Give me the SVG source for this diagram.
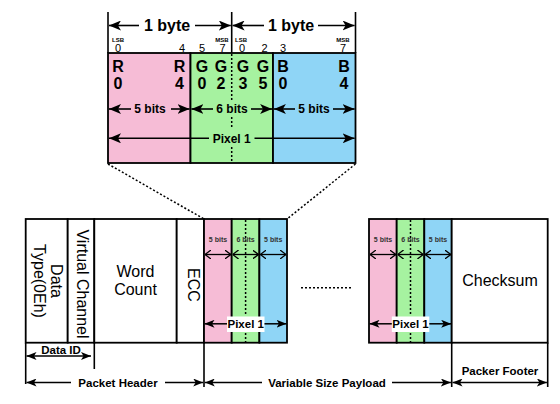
<svg xmlns="http://www.w3.org/2000/svg" width="560" height="404" viewBox="0 0 560 404">
<defs>
<style>
.b{stroke:#000;stroke-width:1.8;fill:none}
.pk{fill:#F6BCD6;stroke:#000;stroke-width:1.8}
.gr{fill:#A6F2A0;stroke:#000;stroke-width:1.8}
.bl{fill:#8FD5F6;stroke:#000;stroke-width:1.8}
.wh{fill:#fff;stroke:#000;stroke-width:1.8}
.dot{stroke:#000;stroke-width:1.5;stroke-dasharray:2 2;fill:none}
.ln{stroke:#000;stroke-width:1.6;fill:none}
.a{stroke:#000;stroke-width:1.6;fill:none;marker-end:url(#ah)}
.as{stroke:#000;stroke-width:1.5;fill:none;marker-end:url(#ahs)}
.ao{stroke:#000;stroke-width:1.3;fill:none;marker-start:url(#oh);marker-end:url(#oh)}
text{font-family:"Liberation Sans",Arial,sans-serif;fill:#000}
.t16b{font-size:16px;font-weight:bold}
.t12b{font-size:12px;font-weight:bold}
.t11b{font-size:11.5px;font-weight:bold}
.tn{font-size:11px}
.tiny{font-size:6px;font-weight:bold}
.t7{font-size:7px;font-weight:bold;fill:#333}
.t16{font-size:16px}
.m{text-anchor:middle}
</style>
<marker id="ah" viewBox="0 0 12 10" refX="12" refY="5" markerWidth="12" markerHeight="10" markerUnits="userSpaceOnUse" orient="auto"><path d="M0,0 L12,5 L0,10 L3,5 z" fill="#000"/></marker>
<marker id="ahs" viewBox="0 0 10 8" refX="10" refY="4" markerWidth="10" markerHeight="8" markerUnits="userSpaceOnUse" orient="auto"><path d="M0,0 L10,4 L0,8 L2.5,4 z" fill="#000"/></marker>
<marker id="oh" viewBox="0 0 6 9" refX="6" refY="4.5" markerWidth="6" markerHeight="9" markerUnits="userSpaceOnUse" orient="auto-start-reverse"><path d="M0,0 L6,4.5 L0,9" fill="none" stroke="#000" stroke-width="1.3"/></marker>
</defs>
<rect width="560" height="404" fill="#fff"/>

<!-- Top detail: pixel bytes -->
<g id="pixel-detail">
<rect class="pk" x="108" y="53" width="82.5" height="110"/>
<rect class="gr" x="190.5" y="53" width="82.5" height="110"/>
<rect class="bl" x="273" y="53" width="82.5" height="110"/>
<line class="dot" x1="231.7" y1="54" x2="231.7" y2="100"/>
<line class="dot" x1="231.7" y1="117" x2="231.7" y2="129"/>
<line class="dot" x1="231.7" y1="147" x2="231.7" y2="162"/>
<text class="tiny m" x="118" y="42">LSB</text>
<text class="tiny m" x="222" y="42">MSB</text>
<text class="tiny m" x="241" y="42">LSB</text>
<text class="tiny m" x="343" y="42">MSB</text>
<text class="tn m" x="118" y="51.5">0</text>
<text class="tn m" x="182" y="51.5">4</text>
<text class="tn m" x="202" y="51.5">5</text>
<text class="tn m" x="222.5" y="51.5">7</text>
<text class="tn m" x="242" y="51.5">0</text>
<text class="tn m" x="264.5" y="51.5">2</text>
<text class="tn m" x="283" y="51.5">3</text>
<text class="tn m" x="343" y="51.5">7</text>
<text class="t16b m" x="118" y="71.5">R</text>
<text class="t16b m" x="179.5" y="71.5">R</text>
<text class="t16b m" x="202" y="71.5">G</text>
<text class="t16b m" x="221" y="71.5">G</text>
<text class="t16b m" x="243" y="71.5">G</text>
<text class="t16b m" x="263" y="71.5">G</text>
<text class="t16b m" x="283" y="71.5">B</text>
<text class="t16b m" x="344" y="71.5">B</text>
<text class="t16b m" x="118" y="88.5">0</text>
<text class="t16b m" x="179.5" y="88.5">4</text>
<text class="t16b m" x="202" y="88.5">0</text>
<text class="t16b m" x="221" y="88.5">2</text>
<text class="t16b m" x="243" y="88.5">3</text>
<text class="t16b m" x="263" y="88.5">5</text>
<text class="t16b m" x="283" y="88.5">0</text>
<text class="t16b m" x="344" y="88.5">4</text>
<text class="t12b m" x="150" y="113">5 bits</text>
<text class="t12b m" x="232" y="113">6 bits</text>
<text class="t12b m" x="314" y="113">5 bits</text>
<text class="t12b m" x="231.7" y="142.5">Pixel 1</text>
<text class="t16b m" x="167" y="30.5">1 byte</text>
<text class="t16b m" x="291" y="30.5">1 byte</text>
</g>

<!-- Packet -->
<g id="data-type">
<rect class="wh" x="25.7" y="219" width="42" height="123.7"/>
<text class="t16 m" transform="translate(50.5,281) rotate(90)">Data</text>
<text class="t16 m" transform="translate(33.5,281) rotate(90)">Type(0Eh)</text>
</g>
<g id="virtual-channel">
<rect class="wh" x="67.7" y="219" width="26.6" height="123.7"/>
<text class="t16 m" transform="translate(76.5,284) rotate(90)">Virtual Channel</text>
</g>
<g id="word-count">
<rect class="wh" x="94.3" y="219" width="82.4" height="123.7"/>
<text class="t16 m" x="135.5" y="276.5">Word</text>
<text class="t16 m" x="135.5" y="295">Count</text>
</g>
<g id="ecc">
<rect class="wh" x="176.7" y="219" width="27.3" height="123.7"/>
<text class="t16 m" transform="translate(187.5,285) rotate(90)">ECC</text>
</g>
<g id="pixel-1a">
<rect class="pk" x="204" y="219" width="27.7" height="123.7"/>
<rect class="gr" x="231.7" y="219" width="27.7" height="123.7"/>
<rect class="bl" x="259.4" y="219" width="27.6" height="123.7"/>
<line class="dot" x1="245.6" y1="220" x2="245.6" y2="316"/>
<line class="dot" x1="245.6" y1="333" x2="245.6" y2="342"/>
<text class="t7 m" x="218" y="242">5 bits</text>
<text class="t7 m" x="245.6" y="242">6 bits</text>
<text class="t7 m" x="273.2" y="242">5 bits</text>
<line class="ao" x1="205" y1="254.5" x2="230.8" y2="254.5"/>
<line class="ao" x1="232.6" y1="254.5" x2="258.5" y2="254.5"/>
<line class="ao" x1="260.3" y1="254.5" x2="286" y2="254.5"/>
<rect x="227" y="316.5" width="37.5" height="15.5" fill="#fff"/>
<line class="as" x1="227" y1="323.8" x2="204.5" y2="323.8"/>
<line class="as" x1="264.5" y1="323.8" x2="286.5" y2="323.8"/>
<text class="t11b m" x="245.7" y="328">Pixel 1</text>
</g>
<g id="pixel-1b">
<rect class="pk" x="369" y="219" width="27.7" height="123.7"/>
<rect class="gr" x="396.7" y="219" width="27.6" height="123.7"/>
<rect class="bl" x="424.3" y="219" width="27.4" height="123.7"/>
<line class="dot" x1="410.5" y1="220" x2="410.5" y2="316"/>
<line class="dot" x1="410.5" y1="333" x2="410.5" y2="342"/>
<text class="t7 m" x="383" y="242">5 bits</text>
<text class="t7 m" x="410.5" y="242">6 bits</text>
<text class="t7 m" x="438" y="242">5 bits</text>
<line class="ao" x1="370" y1="254.5" x2="395.8" y2="254.5"/>
<line class="ao" x1="397.6" y1="254.5" x2="423.4" y2="254.5"/>
<line class="ao" x1="425.2" y1="254.5" x2="450.8" y2="254.5"/>
<rect x="391.8" y="316.5" width="37.5" height="15.5" fill="#fff"/>
<line class="as" x1="391.8" y1="323.8" x2="369.5" y2="323.8"/>
<line class="as" x1="429.3" y1="323.8" x2="451.2" y2="323.8"/>
<text class="t11b m" x="410.5" y="328">Pixel 1</text>
</g>
<g id="checksum">
<rect class="wh" x="451.7" y="219" width="96" height="123.7"/>
<text class="t16 m" x="500" y="285.5">Checksum</text>
</g>

<!-- Labels below -->
<g id="label-data-id">
<text class="t11b m" x="61" y="354">Data ID</text>
</g>
<g id="label-packet-header">
<text class="t11b m" x="118" y="386.5">Packet Header</text>
</g>
<g id="label-payload">
<text class="t11b m" x="327" y="386.5">Variable Size Payload</text>
</g>
<g id="label-footer">
<text class="t11b m" x="500" y="375">Packer Footer</text>
</g>

<!-- Connectors -->
<g id="connectors">
<!-- byte dimension -->
<line class="ln" x1="108" y1="12" x2="108" y2="53"/>
<line class="ln" x1="231.7" y1="12" x2="231.7" y2="53"/>
<line class="ln" x1="355.5" y1="12" x2="355.5" y2="53"/>
<line class="a" x1="139" y1="25.5" x2="109" y2="25.5"/>
<line class="a" x1="195" y1="25.5" x2="230.8" y2="25.5"/>
<line class="a" x1="264" y1="25.5" x2="232.6" y2="25.5"/>
<line class="a" x1="318" y1="25.5" x2="354.6" y2="25.5"/>
<!-- bits -->
<line class="a" x1="131" y1="109" x2="109" y2="109"/>
<line class="a" x1="171" y1="109" x2="189.6" y2="109"/>
<line class="a" x1="213" y1="109" x2="191.4" y2="109"/>
<line class="a" x1="251" y1="109" x2="272.1" y2="109"/>
<line class="a" x1="295" y1="109" x2="273.9" y2="109"/>
<line class="a" x1="333" y1="109" x2="354.6" y2="109"/>
<!-- pixel 1 -->
<line class="a" x1="209" y1="138.3" x2="109" y2="138.3"/>
<line class="a" x1="254.5" y1="138.3" x2="354.6" y2="138.3"/>
<!-- zoom lines -->
<line class="dot" x1="108" y1="164" x2="204" y2="219"/>
<line class="dot" x1="355.5" y1="164" x2="287" y2="219"/>
<line class="dot" x1="301" y1="287.7" x2="352" y2="287.7"/>
<!-- extension lines -->
<line class="ln" x1="25.7" y1="342.7" x2="25.7" y2="384"/>
<line class="ln" x1="94.3" y1="342.7" x2="94.3" y2="369"/>
<line class="ln" x1="204" y1="342.7" x2="204" y2="387"/>
<line class="ln" x1="451.7" y1="342.7" x2="451.7" y2="387"/>
<line class="ln" x1="547.7" y1="342.7" x2="547.7" y2="387"/>
<!-- Data ID -->
<line class="as" x1="61" y1="356" x2="26.5" y2="356"/>
<line class="as" x1="61" y1="356" x2="91" y2="356"/>
<!-- Packet Header -->
<line class="as" x1="71" y1="382.5" x2="26.5" y2="382.5"/>
<line class="as" x1="165" y1="382.5" x2="203.2" y2="382.5"/>
<!-- Payload -->
<line class="as" x1="262" y1="382.5" x2="204.8" y2="382.5"/>
<line class="as" x1="392" y1="382.5" x2="450.9" y2="382.5"/>
<!-- Footer -->
<line class="as" x1="500" y1="382.5" x2="452.5" y2="382.5"/>
<line class="as" x1="500" y1="382.5" x2="546.9" y2="382.5"/>
</g>
</svg>
